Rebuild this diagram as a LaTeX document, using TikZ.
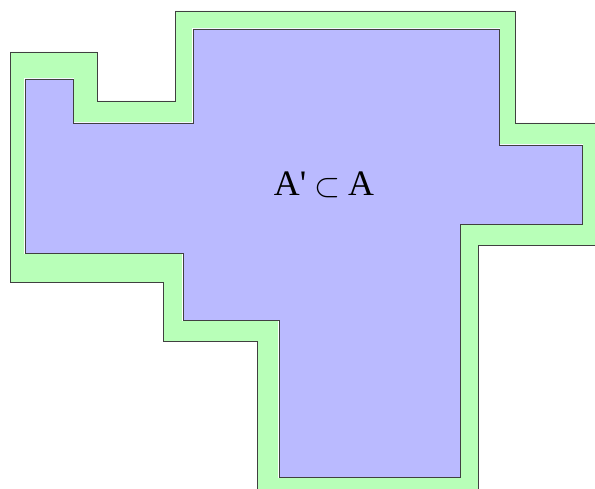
\documentclass[tikz,border=0pt]{standalone}
\usepackage{fontspec}
\setmainfont{Liberation Serif}[Ligatures=TeXOff]
\definecolor{bandgreen}{RGB}{184,255,184}
\definecolor{areablue}{RGB}{186,186,255}
\begin{document}
\begin{tikzpicture}[x=1bp,y=-1bp,
  region/.style={draw=black!75,line width=0.8bp,line join=miter},
  highlight/.style={draw=white,line width=2.2bp}]
\useasboundingbox (0,0) rectangle (595,489);
\clip (0,0) rectangle (595,489);
% outer set A
\path[region,fill=bandgreen] (10,52) -- (97,52) -- (97,101) -- (175,101) -- (175,11) -- (515,11) -- (515,123) -- (610,123) -- (610,245) -- (478,245) -- (478,500) -- (257,500) -- (257,341) -- (163,341) -- (163,282) -- (10,282) -- cycle;
% inner set A'
\path[highlight] (25,79) -- (73,79) -- (73,123) -- (193,123) -- (193,29) -- (499,29) -- (499,145) -- (582,145) -- (582,224) -- (460,224) -- (460,477) -- (279,477) -- (279,320) -- (183,320) -- (183,253) -- (25,253) -- cycle;
\path[region,fill=areablue] (25,79) -- (73,79) -- (73,123) -- (193,123) -- (193,29) -- (499,29) -- (499,145) -- (582,145) -- (582,224) -- (460,224) -- (460,477) -- (279,477) -- (279,320) -- (183,320) -- (183,253) -- (25,253) -- cycle;
\node[font=\fontsize{36}{40}\selectfont,inner sep=0pt,anchor=base] (label) at (324,196) {A'\hspace{8bp}\raisebox{-1bp}{\scalebox{1.35}{$\subset$}}\hspace{8bp}A};
\end{tikzpicture}
\end{document}
